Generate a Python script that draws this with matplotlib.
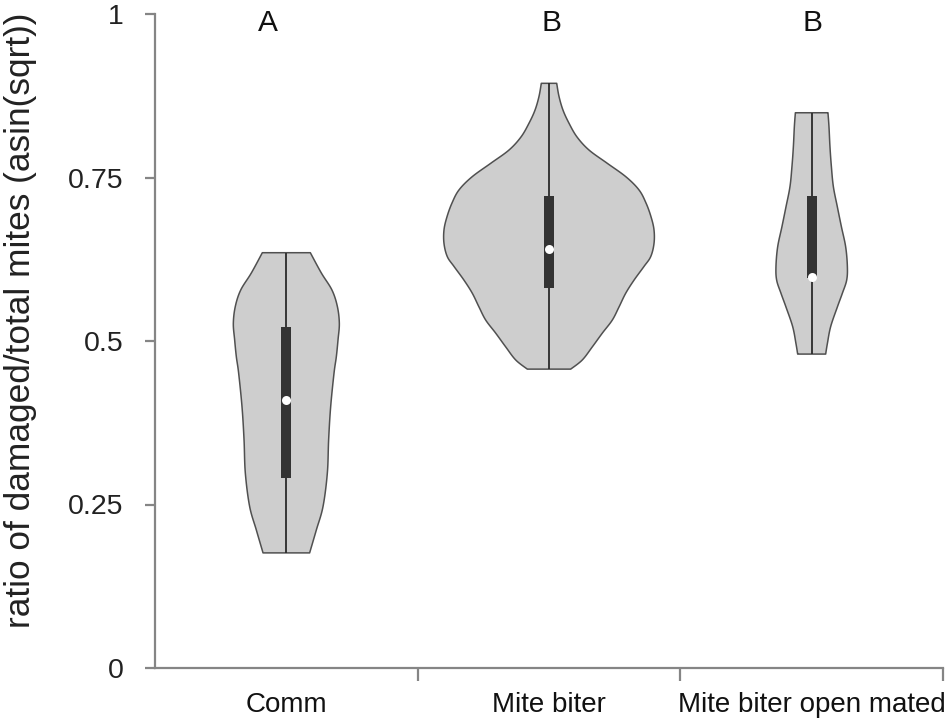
import numpy as np
import matplotlib
matplotlib.use("Agg")
import matplotlib.pyplot as plt

plt.rcParams['font.family'] = ['Liberation Sans', 'DejaVu Sans']

# ---------------- data ----------------
categories = ["Comm", "Mite biter", "Mite biter open mated"]
sig_letters = ["A", "B", "B"]

# violin outlines: value levels and relative density (half-width)
comm_levels = [0.635, 0.604, 0.578, 0.553, 0.527, 0.502, 0.476, 0.451,
               0.399, 0.349, 0.298, 0.247, 0.211, 0.176]
comm_density = [24, 35, 45.6, 51, 53, 51.7, 50, 47.7,
                44.3, 42.3, 41, 36.7, 30, 23.3]

biter_levels = [0.894, 0.874, 0.853, 0.833, 0.812, 0.792, 0.772, 0.751,
                0.731, 0.711, 0.690, 0.670, 0.649, 0.629, 0.614, 0.593,
                0.573, 0.552, 0.532, 0.512, 0.491, 0.471, 0.457]
biter_density = [7.7, 10, 14, 20, 28, 40, 58, 77,
                 90, 97, 102, 105, 105, 101.7, 95, 85,
                 76.7, 70, 63.3, 53.3, 43.3, 33.3, 21.7]

open_levels = [0.849, 0.828, 0.797, 0.767, 0.736, 0.705, 0.675, 0.644,
               0.614, 0.593, 0.573, 0.552, 0.522, 0.496, 0.480]
open_density = [16.3, 17.3, 18.3, 19.7, 21.7, 25.7, 29.7, 34,
                35.7, 35, 30.7, 25.7, 19, 15.7, 14]

q1 = [0.290, 0.581, 0.597]
medians = [0.410, 0.640, 0.598]
q3 = [0.521, 0.721, 0.721]

y_ticks = [0, 0.25, 0.5, 0.75, 1]
y_tick_labels = ["0", "0.25", "0.5", "0.75", "1"]


def smooth_curve(ys, ws, n=12):
    """Catmull-Rom smoothing of the outline through the read points."""
    P = np.column_stack([ys, ws]).astype(float)
    P = np.vstack([P[0], P, P[-1]])
    out = []
    for k in range(1, len(P) - 2):
        p0, p1, p2, p3 = P[k - 1], P[k], P[k + 1], P[k + 2]
        for t in np.linspace(0, 1, n, endpoint=False):
            t2, t3 = t * t, t * t * t
            pt = 0.5 * ((2 * p1) + (-p0 + p2) * t +
                        (2 * p0 - 5 * p1 + 4 * p2 - p3) * t2 +
                        (-p0 + 3 * p1 - 3 * p2 + p3) * t3)
            out.append(pt)
    out.append(P[-2])
    out = np.array(out)
    return out[:, 0], out[:, 1]


# ---------------- plot ----------------
fig = plt.figure(figsize=(9.5, 7.2), dpi=100)
ax = fig.add_axes([155 / 950, 1 - 668 / 720, (943 - 155) / 950, (668 - 14) / 720])
ax.set_xlim(0, 3)
ax.set_ylim(0, 1)

px_per_unit = (943 - 155) / 3.0
scale = 1.0 / px_per_unit

levels_all = [comm_levels, biter_levels, open_levels]
dens_all = [comm_density, biter_density, open_density]
for i, (lv, dn) in enumerate(zip(levels_all, dens_all)):
    c = i + 0.5
    sy, sw = smooth_curve(lv, dn)
    sw = sw * scale
    xs = np.concatenate([c - sw, (c + sw)[::-1]])
    ys = np.concatenate([sy, sy[::-1]])
    ax.fill(xs, ys, facecolor="#cecece", edgecolor="#505050", linewidth=1.1,
            zorder=2, joinstyle="round")
    # whisker line (full range)
    ax.plot([c, c], [min(lv), max(lv)], color="#2b2b2b", linewidth=1.3, zorder=3,
            solid_capstyle="butt")
    # box
    ax.plot([c, c], [q1[i], q3[i]], color="#333333", linewidth=7.2, zorder=4,
            solid_capstyle="butt")
    # median
    ax.scatter([c], [medians[i]], s=42, color="white", zorder=5, linewidths=0)

# significance letters
letter_x = [0.428, 1.511, 2.505]
for lx, t in zip(letter_x, sig_letters):
    ax.text(lx, 0.986, t, ha="center", va="center", fontsize=21.5, color="#111111")

# spines
for s in ["top", "right"]:
    ax.spines[s].set_visible(False)
for s in ["left", "bottom"]:
    ax.spines[s].set_color("#858585")
    ax.spines[s].set_linewidth(1.6)

ax.set_yticks(y_ticks)
ax.set_yticklabels(y_tick_labels)
ax.tick_params(axis="y", length=7.5, width=1.6, color="#858585", pad=15,
               labelsize=20.5, labelcolor="#222222")

ax.set_xticks([1, 2, 3])
ax.set_xticklabels([])
ax.set_xticks([0.5, 1.5, 2.5], minor=True)
ax.set_xticklabels(categories, minor=True)
ax.tick_params(axis="x", which="major", length=9, width=1.6, color="#858585")
ax.tick_params(axis="x", which="minor", length=0, pad=17, labelsize=20,
               labelcolor="#111111")

ax.set_ylabel("ratio of damaged/total mites (asin(sqrt))", fontsize=25.4,
              color="#222222")
ax.yaxis.set_label_coords(-(155 - 37) / 788, (668 - 320) / 654)

fig.savefig("out.png", dpi=100)
